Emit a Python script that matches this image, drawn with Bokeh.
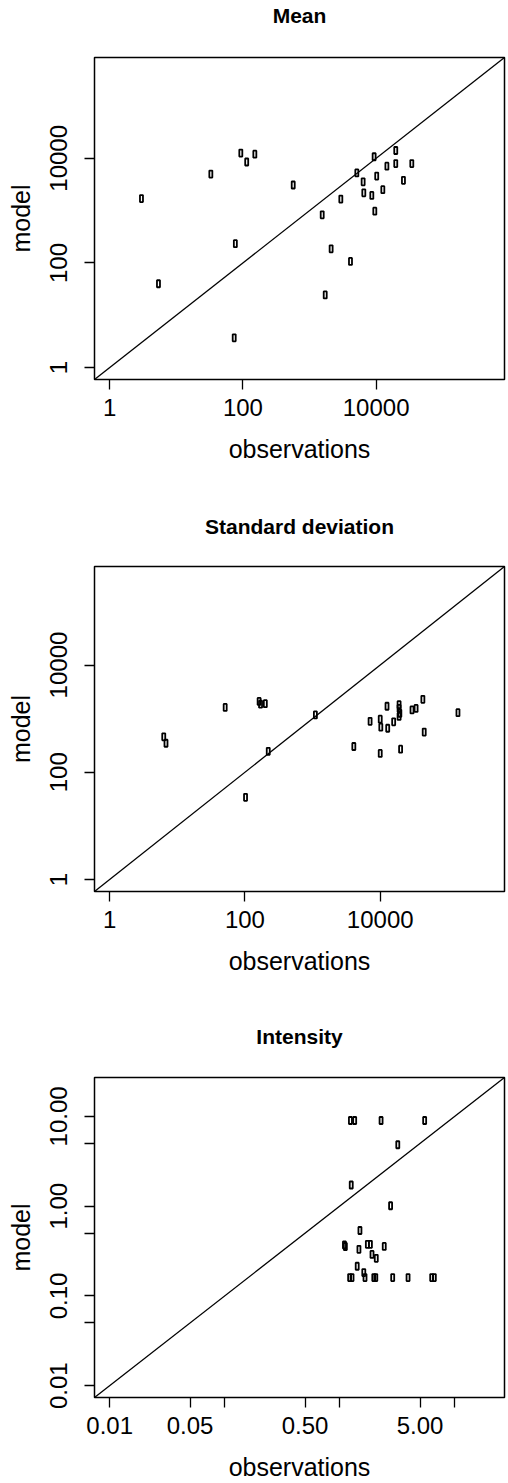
import math
from bokeh.plotting import figure
from bokeh.models import Range1d, FixedTicker, ColumnDataSource, Title
from bokeh.layouts import column
from bokeh.embed import file_html
from bokeh.resources import INLINE

# ---------------- data ----------------
mean_obs = [3.0, 5.4, 33, 74, 77, 93, 114, 151, 569, 1550, 1720, 2110, 2950, 4120,
            5130, 6380, 6530, 8610, 9330, 9550, 10200, 12600, 14500, 19700, 19700,
            25700, 34300]
mean_mod = [1700, 40, 5000, 3.7, 234, 12600, 8500, 12000, 3090, 832, 24.5, 186, 1660,
            107, 5250, 3550, 2190, 1950, 10700, 977, 4570, 2510, 7080, 14100, 7940,
            3800, 7940]
mean_lim = [1, 500000]

sd_obs = [6.3, 6.8, 51, 102, 162, 170, 200, 221, 1100, 4070, 7080, 10000, 10200, 10000,
          12600, 12900, 15800, 19000, 19000, 19500, 19000, 20000, 29500, 33900, 42700,
          44700, 141000]
sd_mod = [457, 347, 1620, 34, 2090, 1860, 1900, 245, 1170, 302, 891, 977, 692, 224,
          1700, 661, 871, 1820, 1550, 1260, 1100, 269, 1450, 1550, 2290, 562, 1290]
sd_lim = [1, 410000]

int_obs = [1.24, 1.35, 2.29, 5.48, 3.2, 1.26, 2.77, 1.50, 1.10, 1.12, 1.47, 1.74, 1.85,
           2.44, 1.91, 2.08, 1.42, 1.62, 1.22, 1.28, 1.66, 1.98, 2.06, 2.89, 3.93, 6.31,
           6.65]
int_mod = [9.0, 9.0, 9.0, 9.0, 4.83, 1.72, 1.01, 0.535, 0.37, 0.355, 0.33, 0.375, 0.375,
           0.356, 0.29, 0.262, 0.214, 0.182, 0.16, 0.16, 0.16, 0.16, 0.16, 0.16, 0.16,
           0.16, 0.16]
int_lim = [0.01, 20]

big_ticks = [1, 100, 10000]
big_labels = ["1", "100", "10000"]
int_ticks = [0.01, 0.05, 0.1, 0.5, 1, 5, 10]
int_xlabels = ["0.01", "0.05", "", "0.50", "", "5.00", ""]
int_ylabels = ["0.01", "", "0.10", "", "1.00", "", "10.00"]

titles = ["Mean", "Standard deviation", "Intensity"]

FONT = "Liberation Sans"
FIG_W = 508
LEFT = 94
RIGHT = 4


def panel(title, obs, mod, lim, xt, xl, yt, yl, height, top, bottom, spacer):
    lo, hi = math.log10(lim[0]), math.log10(lim[1])
    d = hi - lo
    r0, r1 = 10 ** (lo - 0.04 * d), 10 ** (hi + 0.04 * d)
    p = figure(width=FIG_W, height=height, x_axis_type="log", y_axis_type="log",
               x_range=Range1d(r0, r1), y_range=Range1d(r0, r1),
               output_backend="svg", toolbar_location=None,
               min_border_left=LEFT, min_border_right=RIGHT,
               min_border_top=top, min_border_bottom=bottom)
    # invisible spacer between frame and title
    p.add_layout(Title(text=" ", text_font_size="1px", standoff=spacer), "above")
    p.title = Title(text=title, align="center", standoff=0, text_font=FONT,
                    text_font_size="21px", text_font_style="bold", text_color="black")
    p.grid.visible = False
    p.outline_line_color = "black"
    p.outline_line_width = 1.5
    p.outline_line_alpha = 1
    p.background_fill_color = "white"
    p.border_fill_color = "white"

    for ax, ticks, labels, lab in ((p.xaxis[0], xt, xl, "observations"),
                                   (p.yaxis[0], yt, yl, "model")):
        ax.ticker = FixedTicker(ticks=ticks, minor_ticks=[])
        ax.major_label_overrides = {t: s for t, s in zip(ticks, labels)}
        ax.axis_label = lab
        ax.axis_label_text_font = FONT
        ax.axis_label_text_font_size = "25px"
        ax.axis_label_text_font_style = "normal"
        ax.axis_label_text_color = "black"
        ax.major_label_text_font = FONT
        ax.major_label_text_font_size = "24px"
        ax.major_label_text_color = "black"
        ax.axis_line_color = None
        ax.major_tick_out = 10
        ax.major_tick_in = 0
        ax.major_tick_line_width = 1.3
        ax.major_tick_line_color = "black"
        ax.minor_tick_line_color = None
    p.xaxis.major_label_standoff = 9
    p.xaxis.axis_label_standoff = 16
    p.yaxis.major_label_orientation = "vertical"
    p.yaxis.major_label_standoff = 17
    p.yaxis.axis_label_standoff = 13

    p.line([r0, r1], [r0, r1], line_color="black", line_width=1.3)
    src = ColumnDataSource(dict(x=obs, y=mod))
    p.rect(x="x", y="y", width=3, height=7, width_units="screen", height_units="screen",
           source=src, fill_color=None, line_color="black", line_width=1.8)
    return p


p1 = panel(titles[0], mean_obs, mean_mod, mean_lim, big_ticks, big_labels, big_ticks,
           big_labels, 490, 57, 111, 28)
p2 = panel(titles[1], sd_obs, sd_mod, sd_lim, big_ticks, big_labels, big_ticks,
           big_labels, 510, 76, 109, 26)
p3 = panel(titles[2], int_obs, int_mod, int_lim, int_ticks, int_xlabels, int_ticks,
           int_ylabels, 483, 77, 82, 27)

layout = column(p1, p2, p3)
open("out.html", "w").write(file_html(layout, INLINE))
